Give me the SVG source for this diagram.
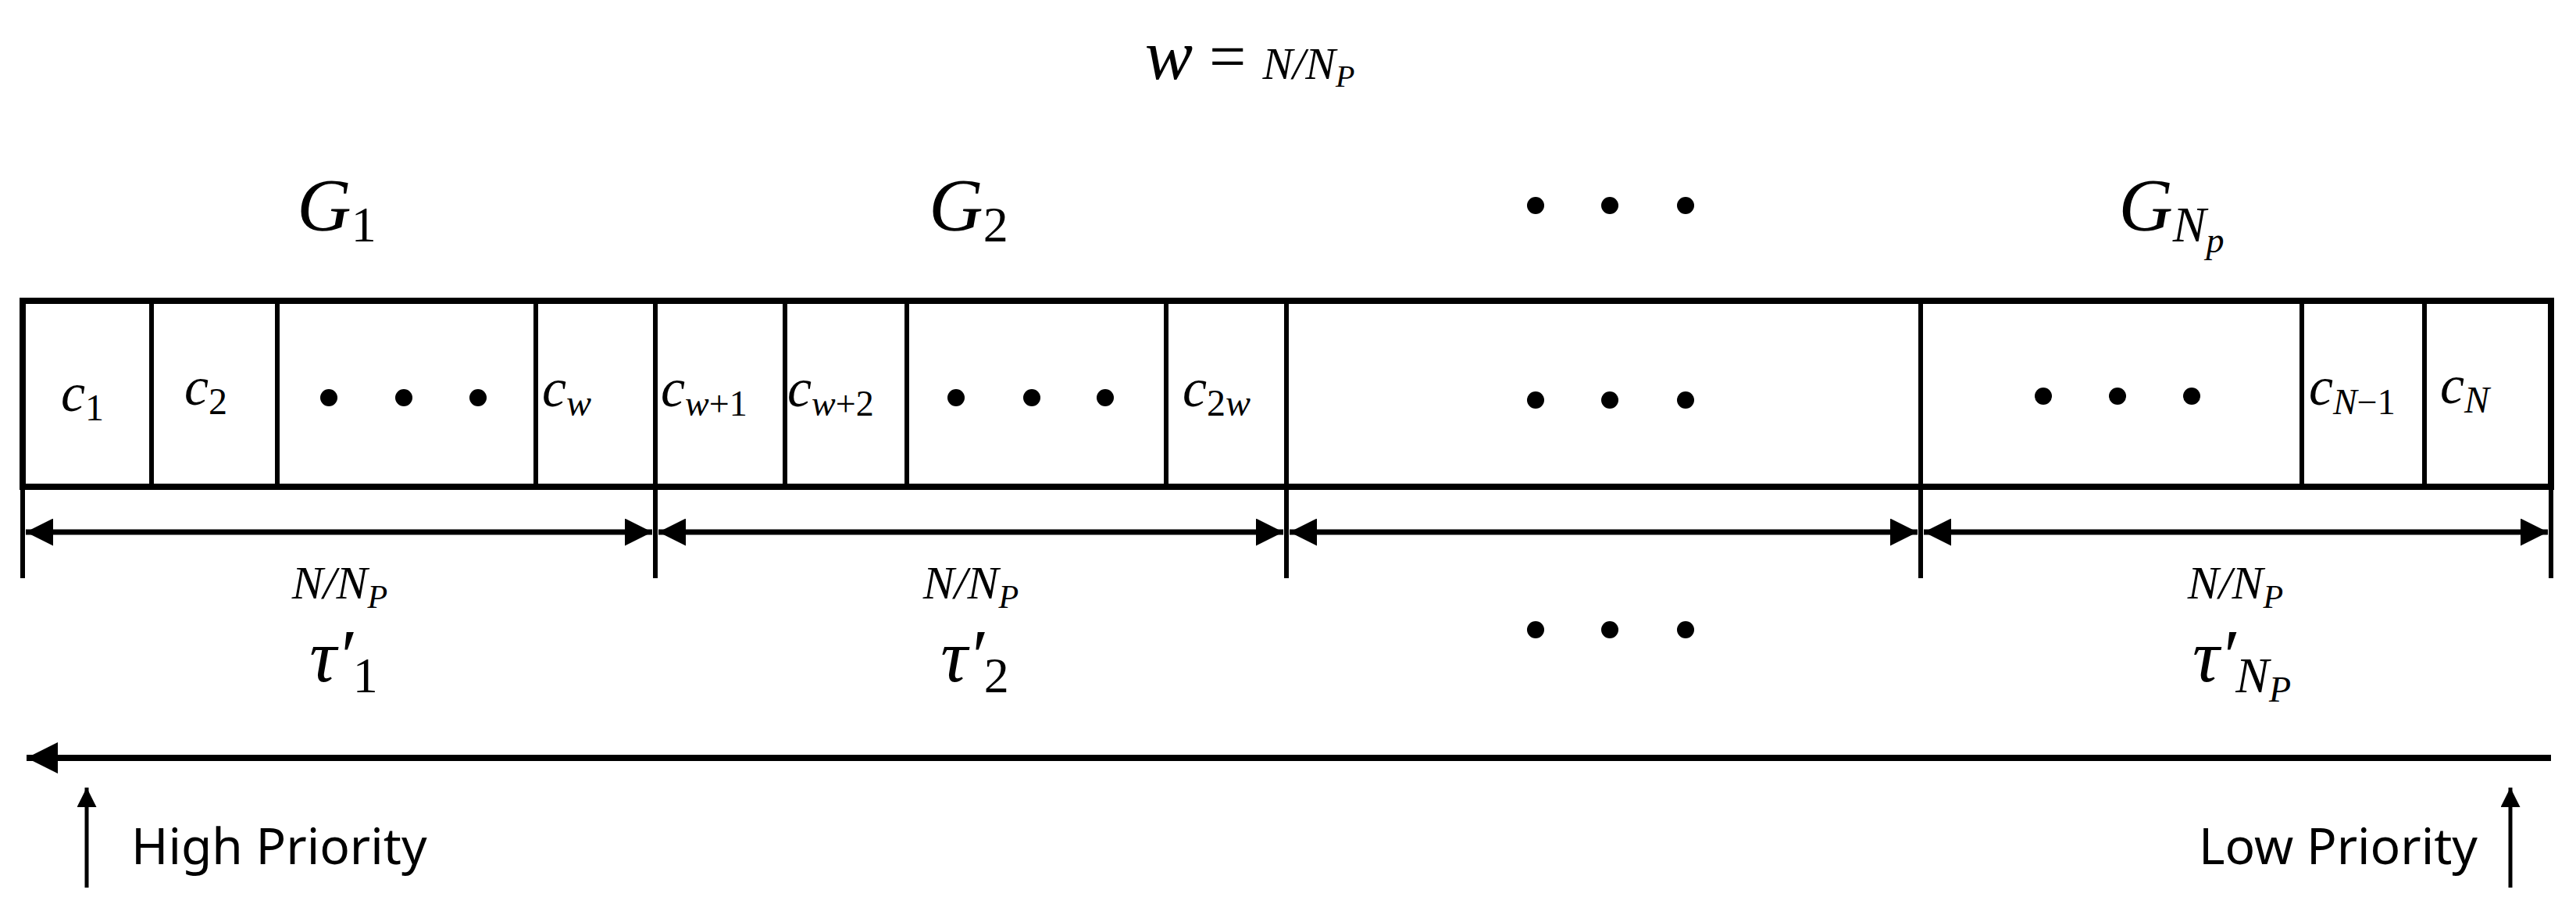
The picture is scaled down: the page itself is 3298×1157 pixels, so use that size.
<svg xmlns="http://www.w3.org/2000/svg" width="3298" height="1157" viewBox="0 0 3298 1157">
<style>
.m{font-family:"Liberation Serif","DejaVu Serif",serif;font-style:italic;fill:#000}
.s{font-family:"Noto Sans","DejaVu Sans",sans-serif;fill:#000;font-size:64px}
.ln{stroke:#000;fill:none}
</style>
<defs>
<marker id="ah" viewBox="0 0 10 10" refX="10" refY="5" markerWidth="5" markerHeight="5" orient="auto-start-reverse" markerUnits="strokeWidth"><path d="M0,0L10,5L0,10z" fill="#000"/></marker>
<marker id="ah2" viewBox="0 0 10 10" refX="10" refY="5" markerWidth="6" markerHeight="5" orient="auto" markerUnits="strokeWidth"><path d="M0,0L10,5L0,10z" fill="#000"/></marker>
</defs>
<g id="title"><text class="m" x="1600" y="101" text-anchor="middle"><tspan font-size="92">w</tspan><tspan font-size="84" font-style="normal"> = </tspan><tspan font-size="58">N/N</tspan><tspan font-size="40" dy="10">P</tspan></text></g>
<g id="groups">
<text class="m" x="431" y="295" font-size="96" text-anchor="middle">G<tspan font-size="64" dy="14" font-style="normal">1</tspan></text>
<text class="m" x="1240" y="295" font-size="96" text-anchor="middle">G<tspan font-size="64" dy="14" font-style="normal">2</tspan></text>
<text class="m" x="2780" y="295" font-size="96" text-anchor="middle">G<tspan font-size="64" dy="14">N</tspan><tspan font-size="46" dy="14">p</tspan></text>
<g fill="#000"><circle cx="1966" cy="263" r="11"/><circle cx="2061" cy="263" r="11"/><circle cx="2158" cy="263" r="11"/></g>
</g>
<g id="bar">
<rect x="29" y="385" width="3237" height="238" class="ln" stroke-width="8"/>
<g class="ln" stroke-width="6">
<line x1="194" y1="385" x2="194" y2="623"/><line x1="355" y1="385" x2="355" y2="623"/><line x1="686" y1="385" x2="686" y2="623"/><line x1="839" y1="385" x2="839" y2="623"/><line x1="1005" y1="385" x2="1005" y2="623"/><line x1="1161" y1="385" x2="1161" y2="623"/><line x1="1493" y1="385" x2="1493" y2="623"/><line x1="1647" y1="385" x2="1647" y2="623"/><line x1="2459" y1="385" x2="2459" y2="623"/><line x1="2947" y1="385" x2="2947" y2="623"/><line x1="3104" y1="385" x2="3104" y2="623"/>
</g>
<g class="m" font-size="70">
<text x="78" y="526">c<tspan font-size="48" dy="12" font-style="normal">1</tspan></text>
<text x="236" y="518">c<tspan font-size="48" dy="12" font-style="normal">2</tspan></text>
<text x="694" y="520">c<tspan font-size="48" dy="12">w</tspan></text>
<text x="846" y="520">c<tspan font-size="46" dy="12">w<tspan font-style="normal">+1</tspan></tspan></text>
<text x="1008" y="520">c<tspan font-size="46" dy="12">w<tspan font-style="normal">+2</tspan></tspan></text>
<text x="1514" y="520">c<tspan font-size="48" dy="12"><tspan font-style="normal">2</tspan>w</tspan></text>
<text x="2956" y="518">c<tspan font-size="46" dy="12">N<tspan font-style="normal">−1</tspan></tspan></text>
<text x="3124" y="516">c<tspan font-size="48" dy="12">N</tspan></text>
</g>
<g fill="#000">
<circle cx="421" cy="509" r="11"/><circle cx="517" cy="509" r="11"/><circle cx="612" cy="509" r="11"/>
<circle cx="1224" cy="509" r="11"/><circle cx="1321" cy="509" r="11"/><circle cx="1415" cy="509" r="11"/>
<circle cx="1966" cy="512" r="11"/><circle cx="2061" cy="512" r="11"/><circle cx="2158" cy="512" r="11"/>
<circle cx="2616" cy="507" r="11"/><circle cx="2711" cy="507" r="11"/><circle cx="2806" cy="507" r="11"/>
</g>
</g>
<g id="connectors">
<g class="ln" stroke-width="6">
<line x1="29" y1="623" x2="29" y2="740"/><line x1="839" y1="623" x2="839" y2="740"/><line x1="1647" y1="623" x2="1647" y2="740"/><line x1="2459" y1="623" x2="2459" y2="740"/><line x1="3266" y1="623" x2="3266" y2="740"/>
</g>
<g class="ln" stroke-width="7" marker-start="url(#ah)" marker-end="url(#ah)">
<line x1="33" y1="681" x2="835" y2="681"/><line x1="843" y1="681" x2="1643" y2="681"/><line x1="1651" y1="681" x2="2455" y2="681"/><line x1="2463" y1="681" x2="3262" y2="681"/>
</g>
<line class="ln" stroke-width="8" x1="3266" y1="970" x2="34" y2="970" marker-end="url(#ah2)"/>
<line class="ln" stroke-width="5" x1="111" y1="1136" x2="111" y2="1008" marker-end="url(#ah2)"/>
<line class="ln" stroke-width="5" x1="3214" y1="1136" x2="3214" y2="1008" marker-end="url(#ah2)"/>
</g>
<g id="labels">
<g class="m" font-size="60" text-anchor="middle">
<text x="435" y="766">N/N<tspan font-size="42" dy="12">P</tspan></text>
<text x="1243" y="766">N/N<tspan font-size="42" dy="12">P</tspan></text>
<text x="2862" y="766">N/N<tspan font-size="42" dy="12">P</tspan></text>
</g>
<g fill="#000"><circle cx="1966" cy="806" r="11"/><circle cx="2061" cy="806" r="11"/><circle cx="2158" cy="806" r="11"/></g>
<g class="m" font-size="96" text-anchor="middle">
<text x="440" y="872">τ′<tspan font-size="64" dy="14" font-style="normal">1</tspan></text>
<text x="1248" y="872">τ′<tspan font-size="64" dy="14" font-style="normal">2</tspan></text>
<text x="2870" y="872">τ′<tspan font-size="64" dy="14">N</tspan><tspan font-size="46" dy="12">P</tspan></text>
</g>
<text class="s" x="168" y="1106">High Priority</text>
<text class="s" x="3172" y="1106" text-anchor="end">Low Priority</text>
</g>
</svg>
